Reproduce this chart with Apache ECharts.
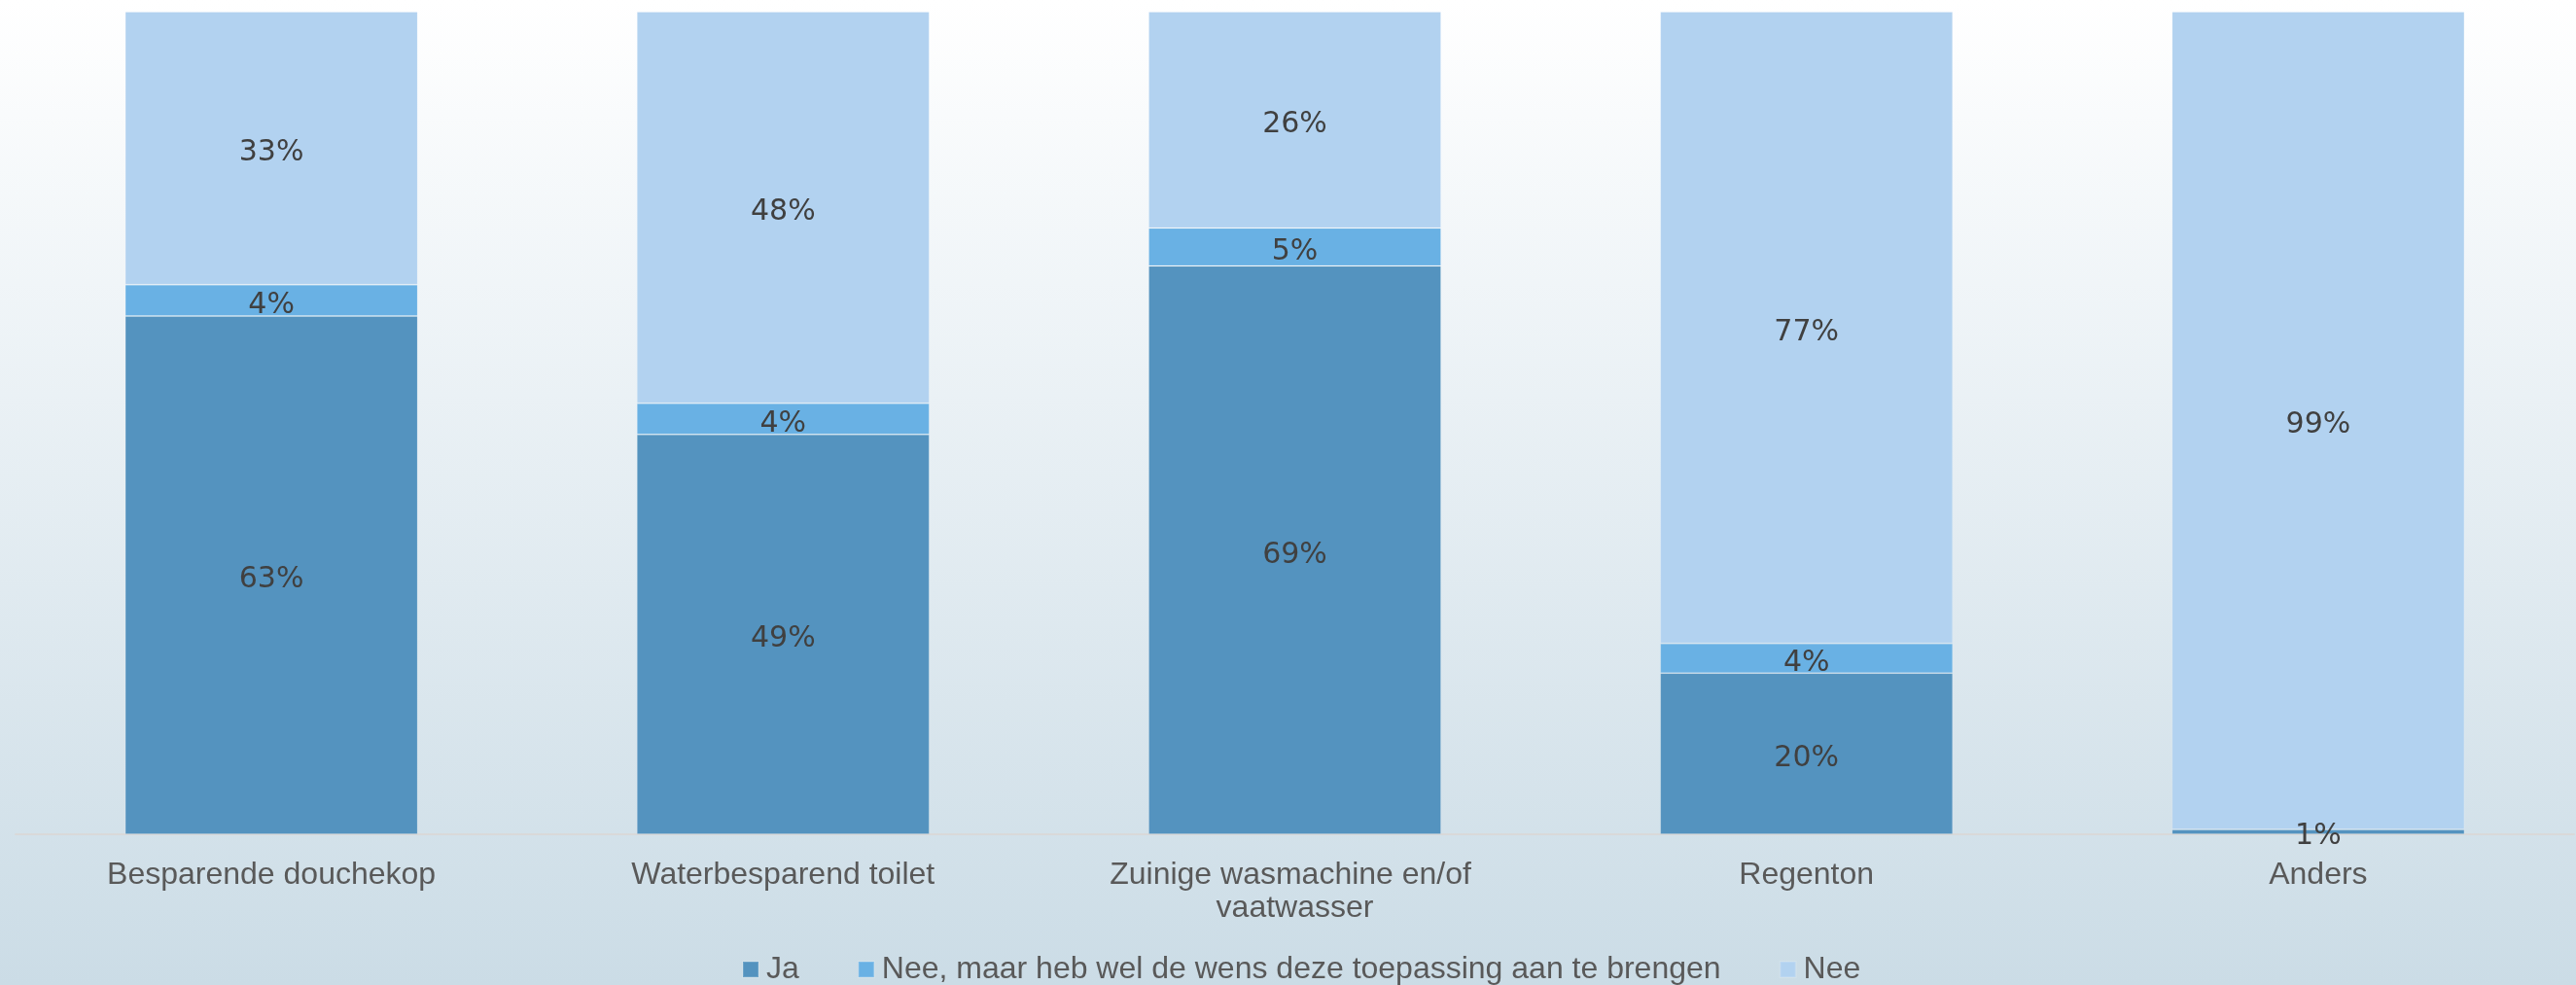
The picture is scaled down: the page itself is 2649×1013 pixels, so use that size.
<!DOCTYPE html>
<html>
<head>
  <meta charset="UTF-8">
  <title>Waterbesparende toepassingen</title>
  <script src="https://cdn.jsdelivr.net/npm/echarts@6/dist/echarts.min.js"></script>
  <style>
    html, body { margin: 0; padding: 0; }
  </style>
</head>
<body>
  <div id="main" style="width: 2649px; height: 1013px;"></div>

  <script>
    const categories = [
      'Besparende douchekop',
      'Waterbesparend toilet',
      'Zuinige wasmachine en/of vaatwasser',
      'Regenton',
      'Anders'
    ];

    // aandeel in procenten, per categorie
    const ja = [63.0, 48.6, 69.1, 19.6, 0.6];
    const neeMaarWens = [3.8, 3.8, 4.6, 3.6, 0];
    const nee = [33.2, 47.6, 26.3, 76.8, 99.4];

    const seriesNames = ['Ja', 'Nee, maar heb wel de wens deze toepassing aan te brengen', 'Nee'];
    const seriesData = [ja, neeMaarWens, nee];
    const colors = ['#5493bf', '#69b1e4', '#b2d2f0'];

    const series = seriesNames.map((name, i) => ({
      name,
      type: 'bar',
      stack: 'total',
      barWidth: '57.2%',
      itemStyle: {
        color: colors[i],
        borderColor: 'rgba(255,255,255,0.15)',
        borderWidth: 1
      },
      label: {
        show: true,
        position: 'inside',
        offset: [0, 5],
        color: '#404040',
        fontFamily: 'DejaVu Sans',
        fontSize: 30,
        formatter: (p) => p.value > 0 ? Math.round(p.value) + '%' : ''
      },
      data: seriesData[i]
    }));

    const option = {
      backgroundColor: {
        type: 'linear', x: 0, y: 0, x2: 0, y2: 1,
        colorStops: [
          { offset: 0, color: '#ffffff' },
          { offset: 1, color: '#cbdce6' }
        ]
      },
      animation: false,
      legend: {
        data: seriesNames,
        left: 758,
        top: 976,
        itemWidth: 16,
        itemHeight: 16,
        itemGap: 60,
        icon: 'rect',
        textStyle: {
          color: '#595959',
          fontFamily: 'Liberation Sans',
          fontSize: 32,
          padding: [0, 0, 0, 3]
        }
      },
      grid: {
        left: 16,
        right: 2,
        top: 12,
        bottom: 155
      },
      xAxis: {
        type: 'category',
        data: categories,
        axisTick: { show: false },
        axisLine: { lineStyle: { color: '#d9d9d9', width: 2 } },
        axisLabel: {
          color: '#595959',
          fontFamily: 'Liberation Sans',
          fontSize: 32,
          lineHeight: 34,
          margin: 25,
          interval: 0,
          width: 440,
          overflow: 'break'
        }
      },
      yAxis: {
        type: 'value',
        min: 0,
        max: 100,
        show: false
      },
      series
    };

    const chart = echarts.init(document.getElementById('main'));
    chart.setOption(option);
  </script>
</body>
</html>
